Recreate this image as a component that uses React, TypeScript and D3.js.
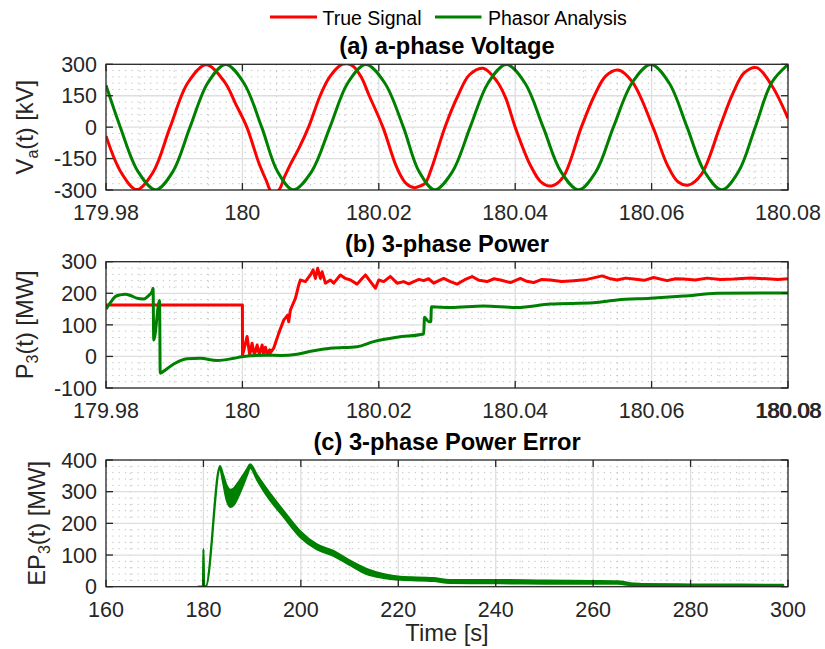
import React from "react";
import * as d3 from "d3";

// Time stamps of the zoomed panels are stored as milliseconds after T0.
const T0 = 180; // s

// (a) a-phase voltage [ms after T0, kV]
const vTrue: [number, number][] = [
  [-20, -42], [-17.8, -215], [-15.5, -298], [-13.1, -215], [-10.6, 0], [-8.0, 212],
  [-5.3, 298], [-2.6, 215], [-0.9, 105], [0.65, 0], [2.4, -170], [3.5, -255],
  [4.3, -310], [5.3, -302], [6.2, -235], [7.0, -180], [8.3, -100], [9.7, 0],
  [11.4, 150], [12.8, 240], [14.6, 300], [15.4, 302], [16.2, 292], [17.4, 240],
  [18.6, 150], [20.6, 0], [22.6, -190], [23.8, -262], [24.6, -283], [25.3, -289],
  [26.0, -282], [26.8, -268], [27.8, -190], [29.7, 0], [31.6, 150], [33.3, 250],
  [35.3, 281], [37.3, 220], [38.6, 140], [40.0, 0], [42.2, -180], [43.8, -262],
  [45.3, -281], [47.0, -240], [49.7, 0], [51.6, 150], [53.3, 245], [55.1, 273],
  [57.2, 215], [60.2, 0], [62.3, -180], [63.9, -262], [65.4, -276], [67.3, -225],
  [70.0, 0], [71.9, 160], [73.6, 260], [75.4, 284], [77.6, 200], [80, 42],
];
const vPhasor: [number, number][] = [
  [-20, 200], [-17.9, 0], [-15.3, -212], [-12.7, -299], [-10.19, -212], [-7.68, 0],
  [-5.06, 212], [-2.45, 299], [0.19, 212], [2.83, 0], [5.15, -212], [7.46, -299],
  [10.15, -212], [12.84, 0], [15.47, 212], [18.1, 299], [20.85, 212], [23.6, 0],
  [25.9, -212], [28.2, -299], [30.8, -212], [33.4, 0], [36.05, 212], [38.7, 299],
  [41.4, 212], [44.1, 0], [46.7, -212], [49.3, -299], [51.85, -212], [54.4, 0],
  [57.15, 212], [59.9, 299], [62.55, 212], [65.2, 0], [67.75, -212], [70.3, -299],
  [72.75, -212], [75.2, 0], [77.6, 212], [80, 299],
];

// (b) 3-phase power [ms after T0, MW]
const pTrue: [number, number][] = [
  [-20, 163], [0, 163], [0.02, 4], [0.69, 63], [1.07, 4], [1.42, 42], [1.76, 4],
  [2.16, 36], [2.49, 6], [2.89, 36], [3.12, 6], [3.37, 29], [3.67, 8], [4.0, 21],
  [4.1, 11], [4.59, 26], [5.32, 73], [6.06, 115], [6.64, 131], [6.79, 110],
  [7.04, 147], [7.77, 184], [8.26, 226], [8.5, 242], [9.24, 237], [9.97, 258],
  [10.37, 274], [10.7, 247], [11.04, 279], [11.44, 247], [11.69, 268], [12.17, 232],
  [12.9, 242], [13.39, 232], [14.37, 258], [15.1, 247], [15.84, 242], [16.82, 229],
  [17.55, 247], [18.04, 258], [18.77, 237], [19.5, 216], [19.99, 242], [20.72, 237],
  [21.7, 253], [22.68, 232], [23.65, 237], [24.4, 230], [25.12, 237], [25.9, 244],
  [26.58, 240], [27.3, 246], [28.05, 232], [28.8, 240], [29.52, 247], [30.5, 237],
  [31.48, 229], [32.6, 243], [33.68, 253], [34.7, 241], [35.88, 237], [36.9, 246],
  [37.83, 242], [39.3, 234], [40.76, 247], [41.7, 238], [42.71, 234], [43.9, 244],
  [45.16, 242], [46.8, 237], [48.58, 240], [50.54, 244], [52.74, 255], [53.8, 247],
  [54.94, 242], [56.2, 248], [57.38, 245], [58.9, 241], [60.31, 250], [62.27, 240],
  [63.5, 246], [64.71, 245], [66.4, 242], [68.14, 248], [70.1, 244], [72.04, 245],
  [74.5, 248], [76.93, 246], [78.5, 244], [80, 246],
];
const pPhasor: [number, number][] = [
  [-20, 150], [-19.3, 172], [-18.67, 189], [-17.9, 195], [-17.16, 197], [-16.4, 193],
  [-15.44, 184], [-14.47, 182], [-13.78, 192], [-13.25, 205], [-13.1, 216], [-13.0, 52],
  [-12.15, 177], [-12.05, -53], [-11.5, -46], [-11.0, -38], [-10.07, -24], [-9.09, -13],
  [-8.11, -7], [-6.16, -6], [-3.71, -13], [-1.28, -6], [-0.1, -1], [1.17, 2],
  [3.62, 4], [5.57, 3], [8.02, 7], [10.45, 18], [12.9, 26], [16.82, 31], [19.25, 47],
  [22.68, 61], [26.58, 71], [26.7, 124], [27.32, 110], [27.62, 110], [27.72, 157],
  [30.5, 155], [35.38, 160], [40.28, 155], [45.16, 166], [51.51, 170], [54.94, 179],
  [59.82, 184], [64.71, 191], [69.6, 200], [80, 201],
];

// (c) 3-phase power error envelope [s, MW]
const errTime = [179, 179.9, 180.0, 180.15, 180.5, 183.4, 184.0, 184.8, 185.5, 186.2, 187.0, 188.0, 189.0, 189.6, 191, 193, 196.4, 199.8, 203.3, 206.7, 210.1, 213.5, 216.9, 220.4, 227.2, 230.6, 240.9, 250, 260, 265, 268.3, 270, 280, 299];
const errUpper = [0, 0, 119, 2, 2, 381, 355, 318, 306, 310, 325, 348, 372, 386, 352, 308, 240, 176, 133, 113, 82, 56, 40, 31, 27, 21, 21, 19, 18, 17, 10, 8, 7, 6];
const errLower = [0, 0, 112, 0, 0, 373, 332, 272, 252, 258, 280, 315, 355, 376, 338, 288, 222, 158, 118, 98, 68, 40, 28, 22, 18, 12, 11, 10, 10, 10, 3, 1, 1, 1];

// Axis ticks
const zoomTicks = [179.98, 180, 180.02, 180.04, 180.06, 180.08];
const zoomTickLabels = ["179.98", "180", "180.02", "180.04", "180.06", "180.08"];
const timeTicks = [160, 180, 200, 220, 240, 260, 280, 300];
const vTicks = [-300, -150, 0, 150, 300];
const pTicks = [-100, 0, 100, 200, 300];
const eTicks = [0, 100, 200, 300, 400];

const W = 825;
const H = 649;
const L = 106;
const R = 788;
const FONT = "'Liberation Sans', Arial, Helvetica, sans-serif";
const AX = "#262626";
const RED = "#ff0000";
const GREEN = "#008000";

function minorTicks(start: number, step: number, n: number, every: number) {
  const out: number[] = [];
  for (let i = 1; i < n; i++) if (i % every !== 0) out.push(start + i * step);
  return out;
}

type AxesProps = {
  id: string;
  y0: number;
  y1: number;
  x: d3.ScaleLinear<number, number>;
  y: d3.ScaleLinear<number, number>;
  xTicks: number[];
  xLabels: string[];
  xMinor: number[];
  yTicks: number[];
  yMinor: number[];
  title: string;
  ylabel: React.ReactNode;
  ylabelX: number;
  boldLast?: boolean;
  children?: React.ReactNode;
};

function Axes(p: AxesProps) {
  const { id, y0, y1, x, y } = p;
  const tk = 7;
  const innerX = p.xTicks.filter((v) => Math.abs(x(v) - L) > 1 && Math.abs(x(v) - R) > 1);
  const innerY = p.yTicks.filter((v) => Math.abs(y(v) - y0) > 1 && Math.abs(y(v) - y1) > 1);
  return (
    <g>
      <defs>
        <clipPath id={id}>
          <rect x={L} y={y0} width={R - L} height={y1 - y0} />
        </clipPath>
      </defs>
      <rect x={L} y={y0} width={R - L} height={y1 - y0} fill="#fff" />
      {p.xMinor.map((v) => (
        <line key={"xm" + v} x1={x(v)} x2={x(v)} y1={y0} y2={y1} stroke="#c2c2c2" strokeWidth={1} strokeDasharray="1.3 5" />
      ))}
      {p.yMinor.map((v) => (
        <line key={"ym" + v} x1={L} x2={R} y1={y(v)} y2={y(v)} stroke="#c2c2c2" strokeWidth={1} strokeDasharray="1.3 5" />
      ))}
      {innerX.map((v) => (
        <line key={"xg" + v} x1={x(v)} x2={x(v)} y1={y0} y2={y1} stroke="#dedede" strokeWidth={1.3} />
      ))}
      {innerY.map((v) => (
        <line key={"yg" + v} x1={L} x2={R} y1={y(v)} y2={y(v)} stroke="#dedede" strokeWidth={1.3} />
      ))}
      <g clipPath={`url(#${id})`}>{p.children}</g>
      <rect x={L} y={y0} width={R - L} height={y1 - y0} fill="none" stroke={AX} strokeWidth={1.3} />
      {p.xTicks.map((v) => (
        <g key={"xt" + v}>
          <line x1={x(v)} x2={x(v)} y1={y1} y2={y1 - tk} stroke={AX} strokeWidth={1.3} />
          <line x1={x(v)} x2={x(v)} y1={y0} y2={y0 + tk} stroke={AX} strokeWidth={1.3} />
        </g>
      ))}
      {p.yTicks.map((v) => (
        <g key={"yt" + v}>
          <line x1={L} x2={L + tk} y1={y(v)} y2={y(v)} stroke={AX} strokeWidth={1.3} />
          <line x1={R} x2={R - tk} y1={y(v)} y2={y(v)} stroke={AX} strokeWidth={1.3} />
        </g>
      ))}
      {p.xTicks.map((v, i) => (
        <text key={"xl" + v} x={x(v)} y={y1 + 30} textAnchor="middle" fontSize={21.5} fill={AX}>
          {p.xLabels[i]}
        </text>
      ))}
      {p.boldLast && (
        <text x={x(p.xTicks[p.xTicks.length - 1]) + 1.2} y={y1 + 30} textAnchor="middle" fontSize={21.5} fill={AX}>
          {p.xLabels[p.xLabels.length - 1]}
        </text>
      )}
      {p.yTicks.map((v) => (
        <text key={"yl" + v} x={L - 9} y={y(v)} dy="0.36em" textAnchor="end" fontSize={21.5} fill={AX}>
          {String(v)}
        </text>
      ))}
      <text x={(L + R) / 2} y={y0 - 10} textAnchor="middle" fontSize={23.7} fontWeight="bold" fill="#000">
        {p.title}
      </text>
      <text
        transform={`translate(${p.ylabelX},${(y0 + y1) / 2}) rotate(-90)`}
        textAnchor="middle"
        fontSize={23.7}
        fill={AX}
      >
        {p.ylabel}
      </text>
    </g>
  );
}

export default function App() {
  const xZoom = d3.scaleLinear().domain([179.98, 180.08]).range([L, R]);
  const xTime = d3.scaleLinear().domain([160, 300]).range([L, R]);

  const aY = d3.scaleLinear().domain([-300, 300]).range([190, 64.3]);
  const bY = d3.scaleLinear().domain([-100, 300]).range([388, 261.7]);
  const cY = d3.scaleLinear().domain([0, 400]).range([586.7, 460]);

  const msX = (ms: number) => xZoom(T0 + ms / 1000);

  const aLine = (curve: d3.CurveFactory) =>
    d3.line<[number, number]>().x((d) => msX(d[0])).y((d) => aY(d[1])).curve(curve);
  const bLine = (curve: d3.CurveFactory) =>
    d3.line<[number, number]>().x((d) => msX(d[0])).y((d) => bY(d[1])).curve(curve);

  const errArea = d3
    .area<number>()
    .x((_, i) => xTime(errTime[i]))
    .y0((_, i) => cY(errLower[i]))
    .y1((_, i) => cY(errUpper[i]))
    .curve(d3.curveMonotoneX);

  const zoomMinor = minorTicks(179.98, 0.005, 20, 4);
  const timeMinor = minorTicks(160, 5, 28, 4);

  return (
    <svg
      width={W}
      height={H}
      viewBox={`0 0 ${W} ${H}`}
      style={{ position: "absolute", left: 0, top: 0, display: "block", background: "#fff" }}
      fontFamily={FONT}
    >
      <rect width={W} height={H} fill="#fff" />

      {/* legend */}
      <g>
        <line x1={270} x2={317} y1={17} y2={17} stroke={RED} strokeWidth={3} />
        <text x={322.5} y={24.5} fontSize={19.5} fill="#000">True Signal</text>
        <line x1={435} x2={481.5} y1={17} y2={17} stroke={GREEN} strokeWidth={3} />
        <text x={488} y={24.5} fontSize={19.5} fill="#000">Phasor Analysis</text>
      </g>

      <Axes
        id="clipA"
        y0={64.3}
        y1={190}
        x={xZoom}
        y={aY}
        xTicks={zoomTicks}
        xLabels={zoomTickLabels}
        xMinor={zoomMinor}
        yTicks={vTicks}
        yMinor={minorTicks(-300, 30, 20, 5)}
        title="(a) a-phase Voltage"
        ylabelX={33}
        ylabel={
          <>
            V<tspan fontSize={16} dy={5}>a</tspan>
            <tspan dy={-5}>(t) [kV]</tspan>
          </>
        }
      >
        <path d={aLine(d3.curveCatmullRom)(vTrue) || ""} fill="none" stroke={RED} strokeWidth={3} strokeLinejoin="round" />
        <path d={aLine(d3.curveCatmullRom)(vPhasor) || ""} fill="none" stroke={GREEN} strokeWidth={3} strokeLinejoin="round" />
      </Axes>

      <Axes
        id="clipB"
        y0={261.7}
        y1={388}
        x={xZoom}
        y={bY}
        xTicks={zoomTicks}
        xLabels={zoomTickLabels}
        xMinor={zoomMinor}
        yTicks={pTicks}
        yMinor={minorTicks(-100, 20, 20, 5)}
        title="(b) 3-phase Power"
        ylabelX={33}
        boldLast
        ylabel={
          <>
            P<tspan fontSize={16} dy={5}>3</tspan>
            <tspan dy={-5}>(t) [MW]</tspan>
          </>
        }
      >
        <path d={bLine(d3.curveLinear)(pTrue) || ""} fill="none" stroke={RED} strokeWidth={3} strokeLinejoin="round" />
        <path d={bLine(d3.curveMonotoneX)(pPhasor) || ""} fill="none" stroke={GREEN} strokeWidth={3} strokeLinejoin="round" />
      </Axes>

      <Axes
        id="clipC"
        y0={460}
        y1={586.7}
        x={xTime}
        y={cY}
        xTicks={timeTicks}
        xLabels={timeTicks.map(String)}
        xMinor={timeMinor}
        yTicks={eTicks}
        yMinor={minorTicks(0, 20, 20, 5)}
        title="(c) 3-phase Power Error"
        ylabelX={45}
        ylabel={
          <>
            EP<tspan fontSize={16} dy={5}>3</tspan>
            <tspan dy={-5}>(t) [MW]</tspan>
          </>
        }
      >
        <path d={errArea(errTime) || ""} fill={GREEN} stroke={GREEN} strokeWidth={2.2} strokeLinejoin="round" />
      </Axes>

      <text x={(L + R) / 2} y={641} textAnchor="middle" fontSize={23.7} fill={AX}>
        Time [s]
      </text>
    </svg>
  );
}
